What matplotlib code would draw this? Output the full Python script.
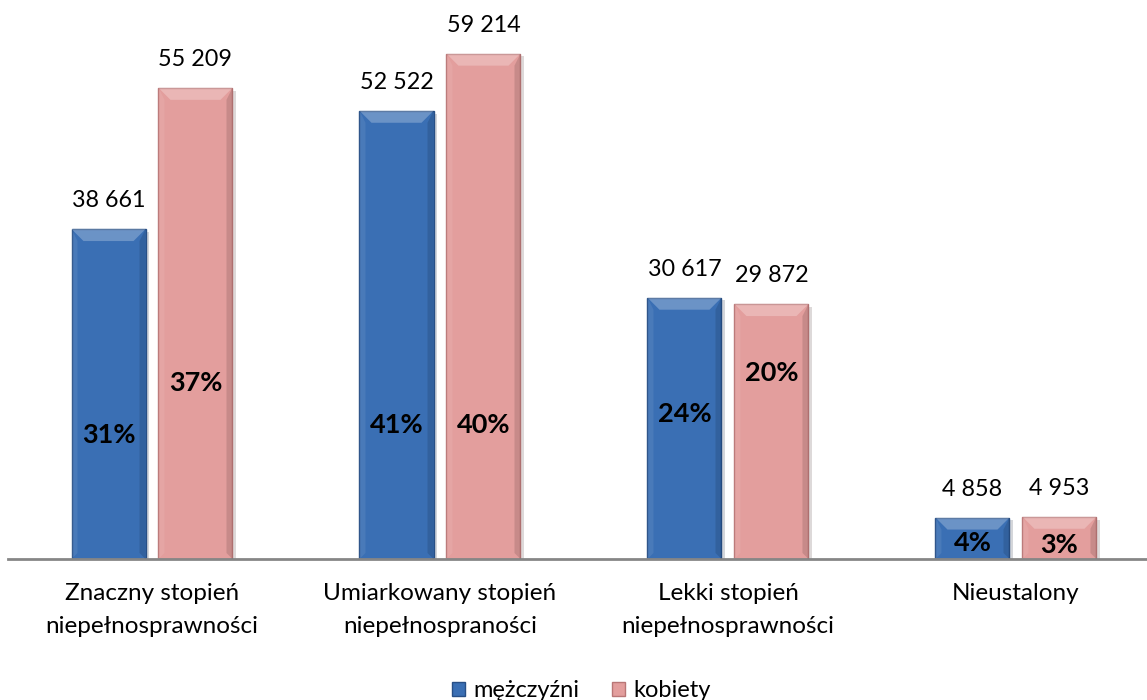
import numpy as np
import matplotlib.pyplot as plt
import matplotlib.patheffects as pe
from matplotlib.patches import Polygon, Patch

plt.rcParams['font.family'] = ['Lato', 'DejaVu Sans']

categories = ['Znaczny stopień\nniepełnosprawności',
              'Umiarkowany stopień\nniepełnospraności',
              'Lekki stopień\nniepełnosprawności',
              'Nieustalony']
men = [38661, 52522, 30617, 4858]
women = [55209, 59214, 29872, 4953]
men_pct = ['31%', '41%', '24%', '4%']
women_pct = ['37%', '40%', '20%', '3%']
# vertical placement of the percent labels (data units)
men_pct_y = [14500, 15700, 17000, 1900]
women_pct_y = [20600, 15700, 21800, 1650]

blue = '#3a6fb4'
blue_dark = '#274f86'
pink = '#e39e9d'
pink_dark = '#b97676'

W, H = 1147, 700
fig = plt.figure(figsize=(W / 100, H / 100), dpi=100)
ax = fig.add_axes([8 / W, (H - 559) / H, 1 - 8 / W, 559 / H])
ax.set_xlim(-0.5, 3.455)
ax.set_ylim(0, 65500)

x = np.arange(len(categories))
bw = 0.257
off = 0.151

bx = 12 / 288   # bevel size in x data units
by = 12 / 0.008536  # bevel size in y data units


def draw_bars(xs, vals, face, dark):
    bars = ax.bar(xs, vals, width=bw, color=face, edgecolor=dark, linewidth=1.0, zorder=2)
    for b in bars:
        b.set_path_effects([pe.SimplePatchShadow(offset=(2.5, -2), alpha=0.18), pe.Normal()])
        x0 = b.get_x()
        x1 = x0 + b.get_width()
        top = b.get_height()
        h = min(by, top / 2)
        # top bevel (light)
        ax.add_patch(Polygon([(x0, top), (x1, top), (x1 - bx, top - h), (x0 + bx, top - h)],
                             closed=True, facecolor='white', alpha=0.25, edgecolor='none', zorder=3))
        # right side (dark)
        ax.add_patch(Polygon([(x1, top), (x1, 0), (x1 - bx * 0.5, h * 0.5), (x1 - bx * 0.5, top - h)],
                             closed=True, facecolor='black', alpha=0.12, edgecolor='none', zorder=3))
        # left side (light)
        ax.add_patch(Polygon([(x0, top), (x0, 0), (x0 + bx * 0.5, h * 0.5), (x0 + bx * 0.5, top - h)],
                             closed=True, facecolor='white', alpha=0.08, edgecolor='none', zorder=3))
    return bars


bm = draw_bars(x - off, men, blue, blue_dark)
bk = draw_bars(x + off, women, pink, pink_dark)

for xs, vals in ((x - off, men), (x + off, women)):
    for xi, v in zip(xs, vals):
        ax.text(xi, v + 3300, f'{v:,}'.replace(',', ' '), ha='center', va='center',
                fontsize=16.8, color='black')

for xs, labs, ys in ((x - off, men_pct, men_pct_y), (x + off, women_pct, women_pct_y)):
    for xi, lab, yy in zip(xs, labs, ys):
        ax.text(xi, yy, lab, ha='center', va='center', fontsize=19.5, fontweight='bold',
                color='black', zorder=4)

ax.set_xticks(x)
ax.set_xticklabels(categories, fontsize=17.5, linespacing=1.75)
ax.tick_params(axis='x', length=0, pad=17)
ax.set_yticks([])
for s in ['left', 'right', 'top']:
    ax.spines[s].set_visible(False)
ax.spines['bottom'].set_color('#868686')
ax.spines['bottom'].set_linewidth(2)

handles = [Patch(facecolor=blue, edgecolor=blue_dark), Patch(facecolor=pink, edgecolor=pink_dark)]
fig.legend(handles, ['mężczyźni', 'kobiety'], loc='center', bbox_to_anchor=(0.507, 0.013),
           ncol=2, frameon=False, fontsize=17, handlelength=0.55, handleheight=0.55,
           handletextpad=0.35, columnspacing=1.4)

fig.savefig('out.png', dpi=100)
